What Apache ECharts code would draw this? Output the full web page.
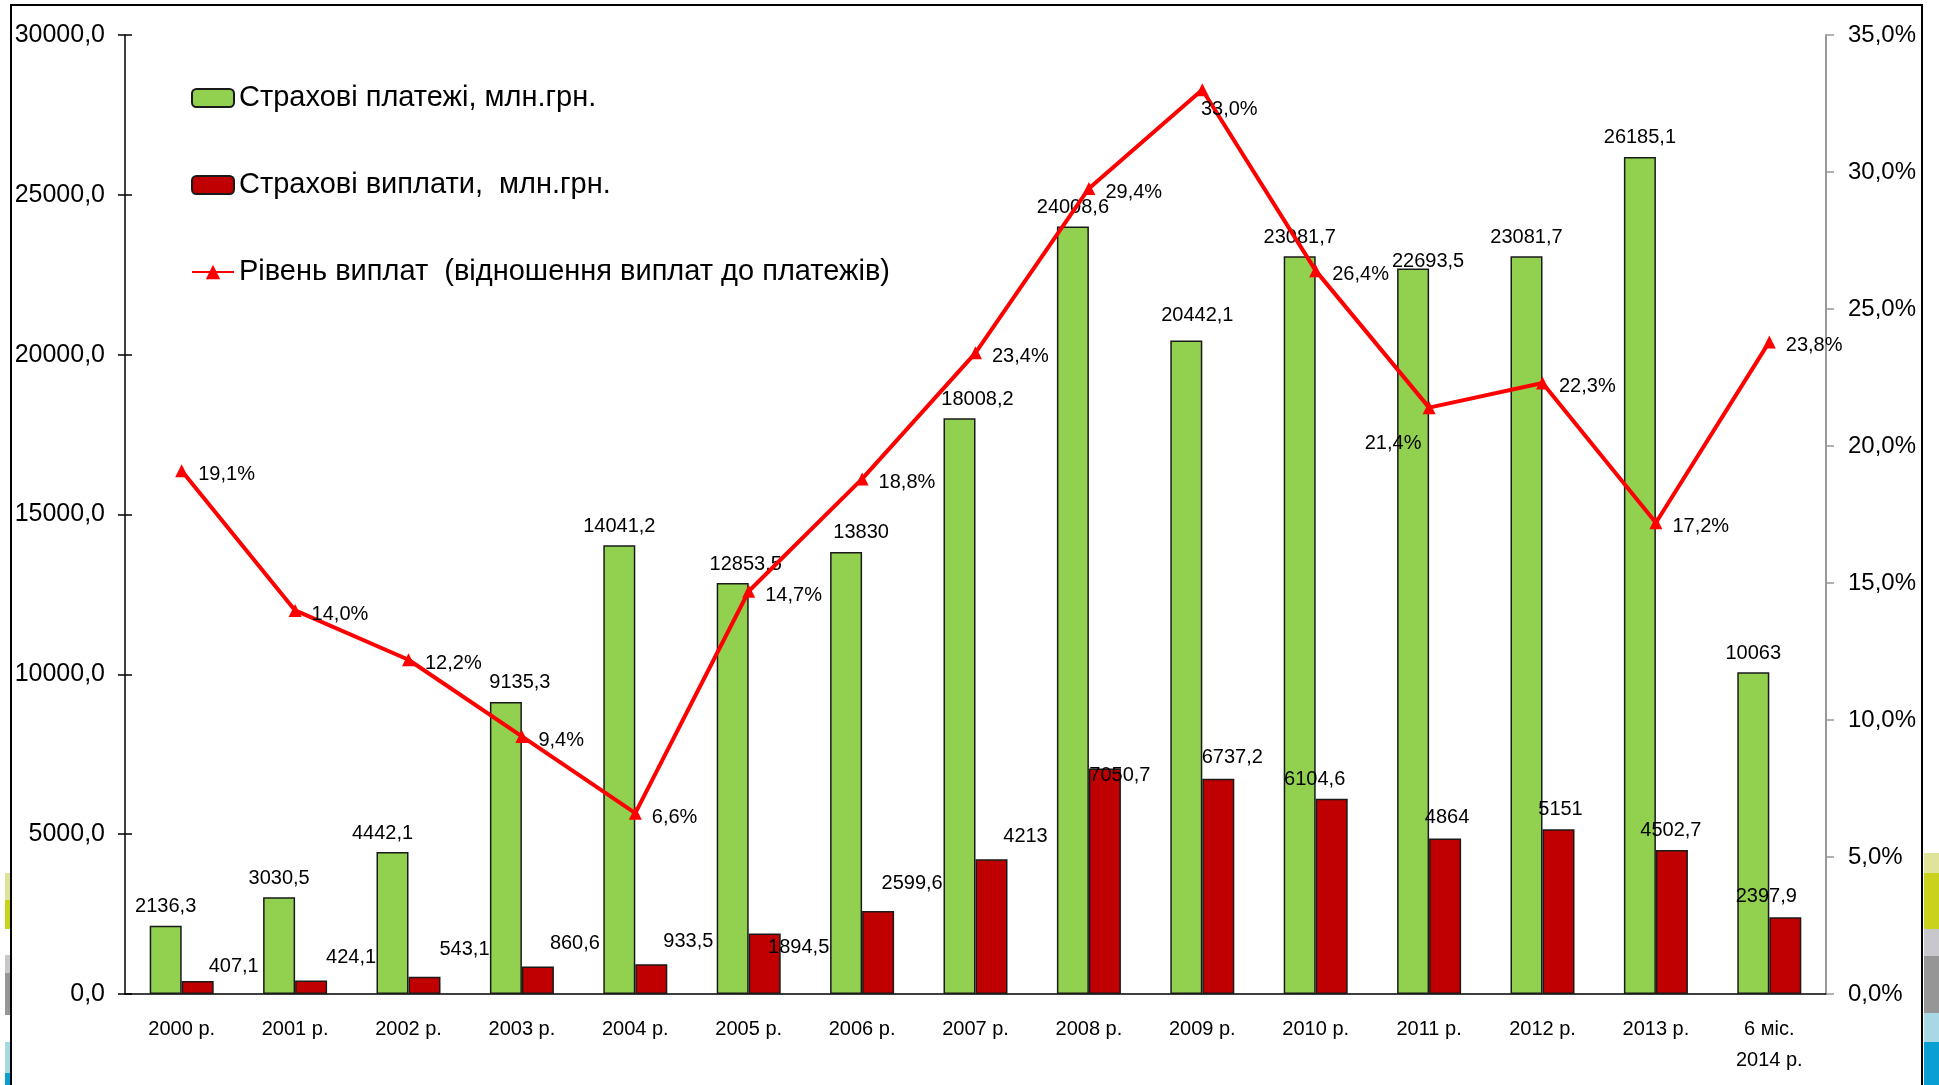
<!DOCTYPE html>
<html>
<head>
<meta charset="utf-8">
<title>Страхові платежі та виплати</title>
<script src="https://cdn.jsdelivr.net/npm/echarts@6/dist/echarts.min.js"></script>
<style>
    html, body { margin: 0; padding: 0; background: #fff; }
    #chart_main { width: 1939px; height: 1085px; }
</style>
</head>
<body>
<div id="chart_main"></div>
<script>
// categories
var years = ['2000 р.', '2001 р.', '2002 р.', '2003 р.', '2004 р.', '2005 р.', '2006 р.',
    '2007 р.', '2008 р.', '2009 р.', '2010 р.', '2011 р.', '2012 р.', '2013 р.', '6 міс.\n2014 р.'];
// страхові платежі, млн.грн.
var payments = [2136.3, 3030.5, 4442.1, 9135.3, 14041.2, 12853.5, 13830, 18008.2,
    24008.6, 20442.1, 23081.7, 22693.5, 23081.7, 26185.1, 10063];
// страхові виплати, млн.грн.
var payouts = [407.1, 424.1, 543.1, 860.6, 933.5, 1894.5, 2599.6, 4213,
    7050.7, 6737.2, 6104.6, 4864, 5151, 4502.7, 2397.9];
// рівень виплат, %
var level = [19.1, 14.0, 12.2, 9.4, 6.6, 14.7, 18.8, 23.4, 29.4, 33.0, 26.4, 21.4, 22.3, 17.2, 23.8];

var seriesNames = ['Страхові платежі, млн.грн.', 'Страхові виплати,  млн.грн.',
    'Рівень виплат  (відношення виплат до платежів)'];

var FONT = "'Liberation Sans', Arial, sans-serif";

function comma(v) {
    return String(v).replace('.', ',');
}

(function () {
    var myChart = echarts.init(document.getElementById('chart_main'));

    // labels in the original were nudged by hand, so a few get their own offset
    var payShift = {3: [14, 0], 5: [13, 0], 6: [15, 0], 7: [18, 0], 9: [11, -6], 11: [15, 12], 2: [-10, 0]};
    var payoutShift = [[36, 0], [40, -8], [40, -12], [37, -8], [37, -8], [34, 29], [34, -12], [34, -8],
        [15, 22], [14, -6], [-17, -4], [2, -6], [2, -5], [-1, -5], [-19, -6]];

    var payData = payments.map(function (v, i) {
        return {value: v, label: {offset: payShift[i] || [0, 0]}};
    });
    var payoutData = payouts.map(function (v, i) {
        return {value: v, label: {offset: payoutShift[i]}};
    });
    var levelData = level.map(function (v, i) {
        var item = {value: v};
        if (i === 9) {
            item.label = {position: 'bottom', offset: [27, -7]};
        } else if (i === 11) {
            item.label = {position: 'bottom', offset: [-36, 9]};
        }
        return item;
    });

    var option = {
        animation: false,
        backgroundColor: '#fff',
        textStyle: {fontFamily: FONT},
        grid: {left: 125, right: 113, top: 35, bottom: 91, containLabel: false},
        legend: {
            orient: 'vertical',
            left: 186,
            top: 78,
            itemWidth: 42,
            itemHeight: 18,
            itemGap: 57,
            textStyle: {fontSize: 29, color: '#000', lineHeight: 30, fontFamily: FONT},
            data: seriesNames
        },
        xAxis: [{
            type: 'category',
            data: years,
            axisLine: {lineStyle: {color: '#000', width: 1.5}},
            axisTick: {length: 6, lineStyle: {color: '#000', width: 1.5}},
            axisLabel: {fontSize: 20, color: '#000', margin: 20, lineHeight: 31, fontFamily: FONT}
        }, {
            type: 'category',
            data: years,
            position: 'bottom',
            axisLine: {show: false},
            axisTick: {inside: true, length: 6, lineStyle: {color: '#000', width: 1.5}},
            axisLabel: {show: false}
        }],
        yAxis: [{
            type: 'value',
            min: 0,
            max: 30000,
            interval: 5000,
            position: 'left',
            axisLine: {show: true, lineStyle: {color: '#000', width: 1.5}},
            axisTick: {show: true, length: 7, lineStyle: {color: '#000', width: 1.5}},
            axisLabel: {
                fontSize: 25, color: '#000', margin: 20, fontFamily: FONT,
                formatter: function (v) { return v.toFixed(1).replace('.', ','); }
            },
            splitLine: {show: false}
        }, {
            type: 'value',
            min: 0,
            max: 35,
            interval: 5,
            position: 'right',
            axisLine: {show: true, lineStyle: {color: '#999', width: 2}},
            axisTick: {show: true, length: 8, lineStyle: {color: '#999', width: 1.5}},
            axisLabel: {
                fontSize: 24, color: '#000', margin: 22, fontFamily: FONT,
                formatter: function (v) { return v.toFixed(1).replace('.', ',') + '%'; }
            },
            splitLine: {show: false}
        }, {
            // only the inner half of the crossing ticks on the left axis
            type: 'value',
            min: 0,
            max: 30000,
            interval: 5000,
            position: 'left',
            axisLine: {show: false},
            axisTick: {show: true, inside: true, length: 7, lineStyle: {color: '#000', width: 1.5}},
            axisLabel: {show: false},
            splitLine: {show: false}
        }],
        series: [{
            name: seriesNames[0],
            type: 'bar',
            barWidth: 32,
            barGap: '0%',
            itemStyle: {color: '#92D050', borderColor: '#1a1a1a', borderWidth: 1.5},
            label: {
                show: true, position: 'top', distance: 9, fontSize: 20, color: '#000', fontFamily: FONT,
                formatter: function (p) { return comma(p.value); }
            },
            data: payData
        }, {
            name: seriesNames[1],
            type: 'bar',
            barWidth: 32,
            barGap: '0%',
            itemStyle: {color: '#C00000', borderColor: '#1a1a1a', borderWidth: 1.5},
            label: {
                show: true, position: 'top', distance: 5, fontSize: 20, color: '#000', fontFamily: FONT,
                formatter: function (p) { return comma(p.value); }
            },
            data: payoutData
        }, {
            name: seriesNames[2],
            type: 'line',
            yAxisIndex: 1,
            z: 5,
            symbol: 'triangle',
            symbolSize: 13,
            lineStyle: {color: '#FF0000', width: 4},
            itemStyle: {color: '#FF0000'},
            label: {
                show: true, position: 'right', distance: 10, offset: [0, 4],
                fontSize: 20, color: '#000', fontFamily: FONT,
                formatter: function (p) { return p.value.toFixed(1).replace('.', ',') + '%'; }
            },
            data: levelData
        }],
        graphic: [
            // slide frame
            {type: 'rect', silent: true, shape: {x: 11, y: 5, width: 1911, height: 1100},
                style: {fill: 'none', stroke: '#000', lineWidth: 2}},
            // coloured strips at the slide edges
            {type: 'rect', silent: true, shape: {x: 5, y: 873, width: 5, height: 27}, style: {fill: '#dfe39a'}},
            {type: 'rect', silent: true, shape: {x: 5, y: 900, width: 5, height: 29}, style: {fill: '#c9d31e'}},
            {type: 'rect', silent: true, shape: {x: 5, y: 955, width: 5, height: 18}, style: {fill: '#c8c8cc'}},
            {type: 'rect', silent: true, shape: {x: 5, y: 973, width: 5, height: 42}, style: {fill: '#969696'}},
            {type: 'rect', silent: true, shape: {x: 5, y: 1042, width: 5, height: 31}, style: {fill: '#a8d8e4'}},
            {type: 'rect', silent: true, shape: {x: 5, y: 1073, width: 5, height: 12}, style: {fill: '#0a9fd2'}},
            {type: 'rect', silent: true, shape: {x: 1924, y: 853, width: 15, height: 20}, style: {fill: '#e0e49a'}},
            {type: 'rect', silent: true, shape: {x: 1924, y: 873, width: 15, height: 56}, style: {fill: '#c9d31e'}},
            {type: 'rect', silent: true, shape: {x: 1924, y: 929, width: 15, height: 27}, style: {fill: '#c8c8cc'}},
            {type: 'rect', silent: true, shape: {x: 1924, y: 956, width: 15, height: 57}, style: {fill: '#969696'}},
            {type: 'rect', silent: true, shape: {x: 1924, y: 1013, width: 15, height: 29}, style: {fill: '#a8d8e4'}},
            {type: 'rect', silent: true, shape: {x: 1924, y: 1042, width: 15, height: 43}, style: {fill: '#0a9fd2'}}
        ]
    };

    myChart.setOption(option);
    window.addEventListener('resize', function () {
        myChart.resize();
    });
})();
</script>
</body>
</html>
